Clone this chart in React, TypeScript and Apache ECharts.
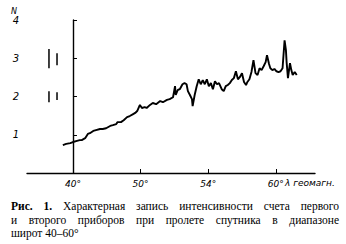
import React, { useEffect, useRef } from "react";
import * as echarts from "echarts";

// x in tick-division units: 0 → 40°, 1 → 50°, 2 → 54°, 3 → 60°
const tickPositions = [0, 1, 2, 3];
const tickLabels = ["40°", "50°", "54°", "60°"];
const yTicks = [1, 2, 3, 4];

const traceX = [
  -0.15, -0.1, -0.04, 0.0, 0.06, 0.1, 0.13, 0.18, 0.22, 0.25, 0.3, 0.34, 0.4, 0.44, 0.49, 0.55, 0.59, 0.64, 0.66, 0.71,
  0.75, 0.8, 0.84, 0.89, 0.92, 0.95, 0.99, 1.02, 1.06, 1.09, 1.14, 1.18, 1.23, 1.29, 1.33, 1.39, 1.43, 1.48, 1.51, 1.52,
  1.55, 1.58, 1.62, 1.65, 1.68, 1.7, 1.73, 1.76, 1.77, 1.8, 1.83, 1.86, 1.89, 1.92, 1.95, 1.98, 2.01, 2.04, 2.07, 2.1,
  2.13, 2.16, 2.2, 2.23, 2.26, 2.29, 2.32, 2.35, 2.38, 2.41, 2.44, 2.47, 2.5, 2.53, 2.56, 2.58, 2.61, 2.64, 2.67, 2.7,
  2.73, 2.76, 2.79, 2.82, 2.85, 2.87, 2.9, 2.92, 2.95, 2.98, 3.01, 3.04, 3.07, 3.1, 3.13, 3.15, 3.16, 3.18, 3.21, 3.23,
  3.25, 3.28, 3.31,
];
const traceN = [
  0.73, 0.76, 0.78, 0.81, 0.84, 0.86, 0.86, 0.91, 1.02, 1.04, 1.1, 1.12, 1.15, 1.15, 1.17, 1.23, 1.25, 1.28, 1.33, 1.33,
  1.38, 1.46, 1.49, 1.54, 1.57, 1.62, 1.78, 1.7, 1.72, 1.7, 1.78, 1.83, 1.8, 1.88, 1.85, 1.91, 1.93, 1.98, 2.27, 2.04,
  2.17, 2.19, 2.32, 2.35, 2.32, 2.14, 2.04, 1.93, 1.75, 2.04, 2.27, 2.45, 2.32, 2.43, 2.32, 2.45, 2.27, 2.35, 2.19, 2.4,
  2.32, 2.35, 2.19, 2.14, 2.27, 2.3, 2.35, 2.43, 2.48, 2.66, 2.45, 2.51, 2.61, 2.38, 2.3, 2.38, 2.45, 2.64, 2.95, 2.61,
  2.56, 2.74, 2.69, 2.79, 2.9, 3.08, 2.85, 2.74, 2.69, 2.72, 2.66, 2.64, 2.66, 2.74, 3.47, 3.21, 2.9, 2.48, 2.87, 2.69,
  2.56, 2.64, 2.56,
];

// calibration bars: [x, yLow, yHigh]
const calibBars = [
  [-0.355, 2.74, 3.24],
  [-0.236, 2.82, 3.13],
  [-0.355, 1.85, 2.14],
  [-0.236, 1.91, 2.11],
];

const captionLines = [
  "Характерная запись интенсивности счета первого",
  "и второго приборов при пролете спутника в диапазоне",
  "широт 40–60°",
];

export default function App() {
  const ref = useRef<HTMLDivElement>(null);

  useEffect(() => {
    document.body.style.margin = "0";
    if (!ref.current) return;
    const chart = echarts.init(ref.current, null, { renderer: "svg" });
    const italic = { fontFamily: "DejaVu Sans", fontStyle: "italic" as const, color: "#000" };
    chart.setOption({
      animation: false,
      backgroundColor: "#fff",
      grid: { left: 27, right: 31, top: 20, bottom: 71, containLabel: false },
      xAxis: {
        type: "value",
        min: -0.68,
        max: 3.58,
        splitLine: { show: false },
        axisLine: { show: true, onZero: false, lineStyle: { color: "#000", width: 1.4 } },
        axisTick: { show: true, inside: true, length: 4, customValues: tickPositions, lineStyle: { color: "#000" } },
        axisLabel: {
          customValues: tickPositions,
          formatter: (v: number) => tickLabels[tickPositions.indexOf(Math.round(v))] ?? "",
          margin: 6,
          fontSize: 9,
          ...italic,
        },
      },
      yAxis: {
        type: "value",
        min: 0,
        max: 4,
        interval: 1,
        splitLine: { show: false },
        axisLine: { show: true, lineStyle: { color: "#000", width: 1.4 } },
        axisTick: { show: true, inside: true, length: 4, customValues: yTicks, lineStyle: { color: "#000" } },
        axisLabel: {
          customValues: yTicks,
          margin: 8,
          fontSize: 10,
          ...italic,
        },
      },
      graphic: [
        { type: "text", left: 11, top: 7, style: { text: "N", fontSize: 8, fontFamily: "DejaVu Sans", fontStyle: "italic", fill: "#000" } },
        { type: "text", left: 285, top: 178, style: { text: "λ геомагн.", fontSize: 9, fontFamily: "DejaVu Sans", fontStyle: "italic", fill: "#000" } },
      ],
      series: [
        {
          type: "line",
          data: traceX.map((x, i) => [x, traceN[i]]),
          symbol: "none",
          lineStyle: { color: "#000", width: 1.9 },
        },
        ...calibBars.map((b) => ({
          type: "line",
          data: [
            [b[0], b[1]],
            [b[0], b[2]],
          ],
          symbol: "none",
          lineStyle: { color: "#000", width: 1.5 },
        })),
      ],
    });
    return () => chart.dispose();
  }, []);

  return (
    <div style={{ position: "fixed", left: 0, top: 0, width: 346, height: 244, background: "#fff" }}>
      <div ref={ref} style={{ position: "absolute", left: 0, top: 0, width: 346, height: 244 }} />
      <div
        style={{
          position: "absolute",
          left: 11,
          top: 199,
          width: 328,
          fontFamily: "'Liberation Serif', serif",
          fontSize: 11.5,
          lineHeight: "14px",
          color: "#000",
        }}
      >
        <div style={{ textAlign: "justify", textAlignLast: "justify" }}>
          <b>Рис. 1.</b> {captionLines[0]}
        </div>
        <div style={{ textAlign: "justify", textAlignLast: "justify" }}>{captionLines[1]}</div>
        <div style={{ marginTop: -1 }}>{captionLines[2]}</div>
      </div>
    </div>
  );
}
